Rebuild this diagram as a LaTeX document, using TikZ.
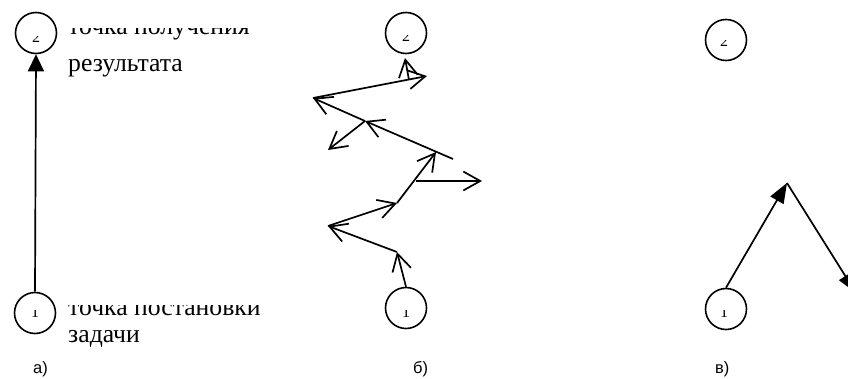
\documentclass[tikz,border=0pt]{standalone}
\usepackage{fontspec}
\setmainfont{Liberation Serif}
\newfontfamily\labfont{Liberation Sans}
\usetikzlibrary{arrows.meta}
\begin{document}
\begin{tikzpicture}[x=1pt,y=-1pt,
  circ/.style={draw, circle, line width=1.6pt, minimum size=41pt, inner sep=0pt},
  ln/.style={line width=1.7pt},
  barb/.style={ln, -{Straight Barb[length=17pt,width=19pt]}},
  tri/.style={ln, -{Triangle[length=17pt,width=16pt]}},
  trib/.style={ln, -{Triangle[length=20pt,width=15pt]}},
  txt/.style={anchor=base west, inner sep=0pt, font=\fontsize{25.7}{26}\selectfont},
  lab/.style={anchor=base west, inner sep=0pt, font=\labfont\fontsize{16.5}{17}\selectfont},
  dig/.style={anchor=base, inner sep=0pt, font=\fontsize{16}{16}\selectfont}
]
\useasboundingbox (0,0) rectangle (848,378);
\clip (0,0) rectangle (848,378);

% ---------- panel a ----------
\node[circ] (a2) at (36,33) {};
\node[circ] (a1) at (35,313) {};
\begin{scope}\clip (24,36) rectangle (48,50); \node[dig] (a2d) at (36,42) {2}; \end{scope}
\begin{scope}\clip (23,310) rectangle (47,325); \node[dig] (a1d) at (35,317) {1}; \end{scope}
\draw[tri] (a1.north) -- (a2.south);
\begin{scope}\clip (60,28) rectangle (300,45);
  \node[txt] (t1) at (68,34) {точка получения};
\end{scope}
\node[txt] (t2) at (68,71) {результата};
\begin{scope}\clip (60,305) rectangle (300,325);
  \node[txt] (t3) at (68,315) {точка постановки};
\end{scope}
\node[txt] (t4) at (68,342) {задачи};
\node[lab] (la) at (33,373) {а)};

% ---------- panel b ----------
\node[circ] (b2) at (406,33) {};
\node[circ] (b1) at (406,308) {};
\begin{scope}\clip (394,35) rectangle (418,50); \node[dig] (b2d) at (406,41) {2}; \end{scope}
\begin{scope}\clip (394,310) rectangle (418,325); \node[dig] (b1d) at (406,317) {1}; \end{scope}
\coordinate (p1) at (397,252);
\coordinate (p2) at (328,226);
\coordinate (p3) at (397,203);
\coordinate (p4) at (436,152);
\coordinate (q) at (416,181);
\coordinate (p5) at (482,181);
\coordinate (p6) at (453,159);
\coordinate (m) at (365,121);
\coordinate (p7) at (328,150);
\coordinate (p8) at (313,98);
\coordinate (p9) at (427,76);
\coordinate (r) at (409,80);
\coordinate (p10) at (405,58);
\draw[barb] (b1.north) -- (p1);
\draw[barb] (p1) -- (p2);
\draw[barb] (p2) -- (p3);
\draw[barb] (p3) -- (p4);
\draw[barb] (q) -- (p5);
\draw[barb] (p6) -- (m);
\draw[barb] (m) -- (p8);
\draw[barb] (m) -- (p7);
\draw[barb] (p8) -- (p9);
\draw[barb] (r) -- (p10);
\node[lab] (lb) at (413,373) {б)};

% ---------- panel c ----------
\node[circ] (c2) at (726,40) {};
\node[circ] (c1) at (726,309) {};
\begin{scope}\clip (714,40) rectangle (738,55); \node[dig] (c2d) at (724,46) {2}; \end{scope}
\begin{scope}\clip (714,310) rectangle (738,325); \node[dig] (c1d) at (724,317) {1}; \end{scope}
\coordinate (apex) at (787,183);
\coordinate (cend) at (856,293);
\draw[trib] (c1.north) -- (apex);
\draw[trib] (apex) -- (cend);
\node[lab] (lc) at (715,373) {в)};
\end{tikzpicture}
\end{document}
